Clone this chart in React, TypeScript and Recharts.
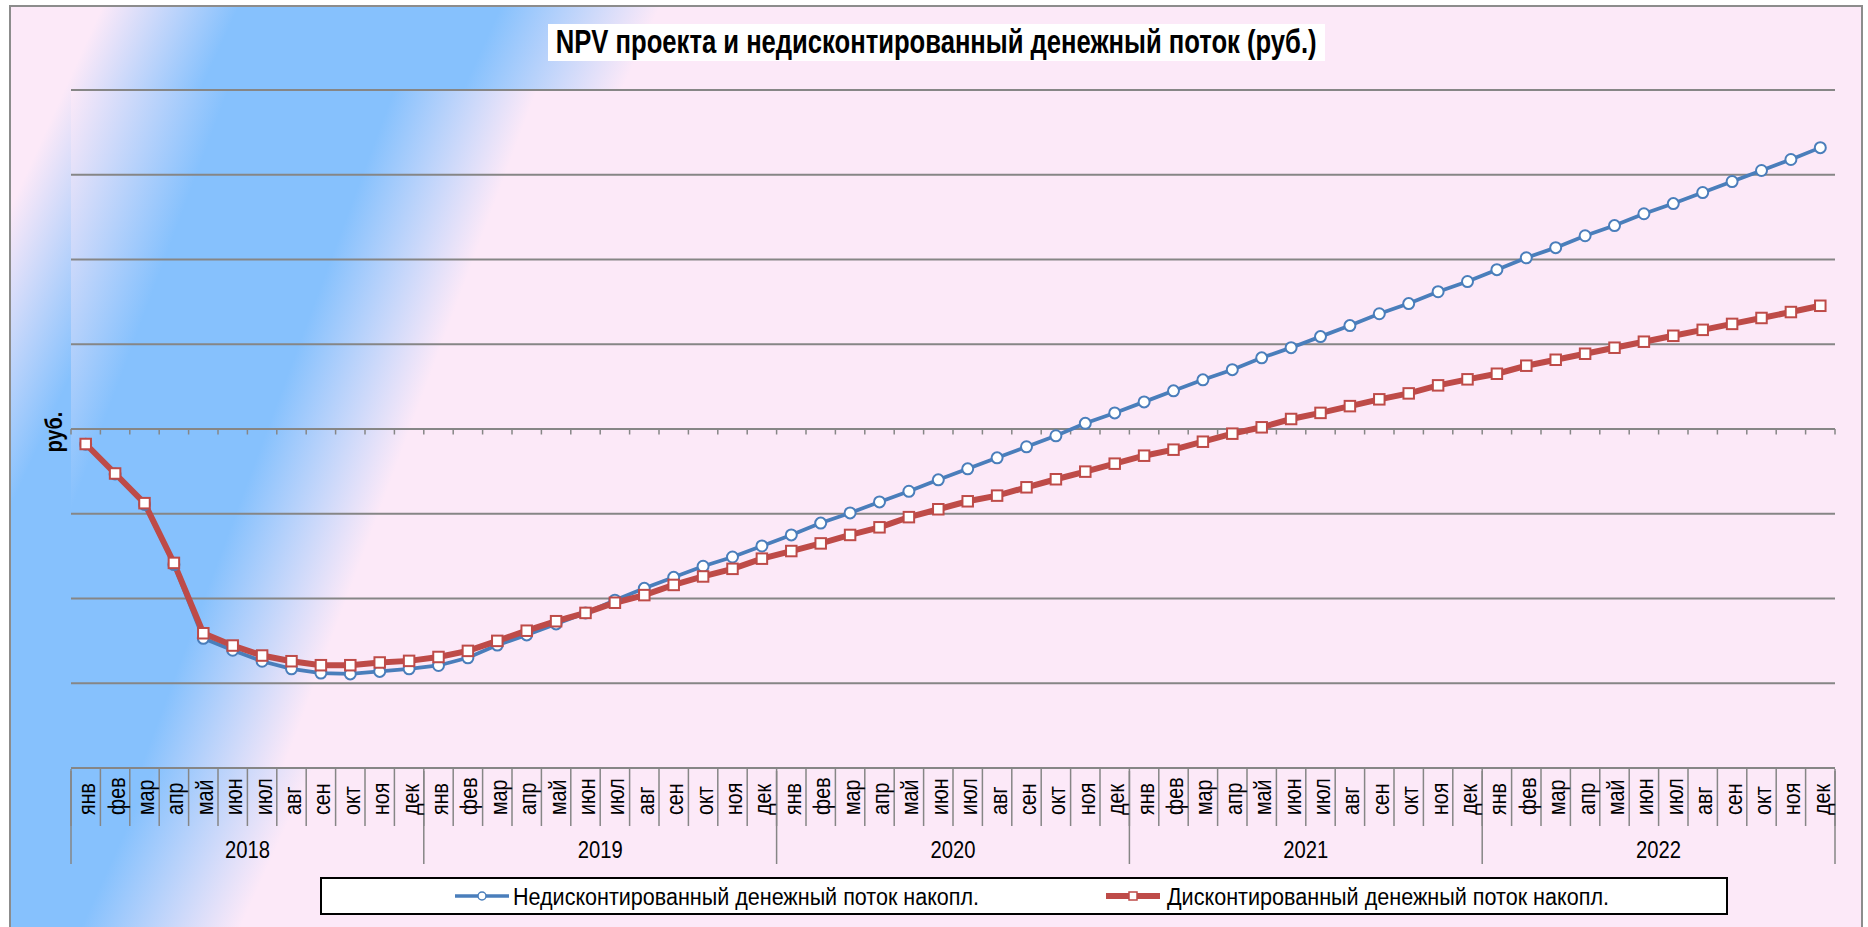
import React from 'react';
import { LineChart, Line, XAxis, YAxis, ReferenceLine, Legend } from 'recharts';

const MONTHS = ['янв', 'фев', 'мар', 'апр', 'май', 'июн', 'июл', 'авг', 'сен', 'окт', 'ноя', 'дек'];
const YEARS = ['2018', '2019', '2020', '2021', '2022'];
const TITLE = 'NPV проекта и недисконтированный денежный поток (руб.)';
const Y_LABEL = 'руб.';
const NAME_UNDISC = 'Недисконтированный денежный поток накопл.';
const NAME_DISC = 'Дисконтированный денежный поток накопл.';

// cumulative cash flow, rub.
const UNDISCOUNTED = [
  -180000, -530000, -890000, -1600000, -2470000, -2610000, -2740000, -2830000, -2880000, -2890000, -2860000, -2830000,
  -2790000, -2700000, -2550000, -2430000, -2300000, -2170000, -2020000, -1880000, -1750000, -1620000, -1510000, -1380000,
  -1250000, -1110000, -990000, -860000, -735000, -600000, -470000, -340000, -210000, -80000, 67000, 190000,
  320000, 450000, 580000, 700000, 840000, 960000, 1090000, 1220000, 1360000, 1480000, 1620000, 1740000,
  1880000, 2020000, 2140000, 2280000, 2400000, 2540000, 2660000, 2790000, 2920000, 3050000, 3180000, 3320000,
];
const DISCOUNTED = [
  -177000, -525000, -875000, -1580000, -2410000, -2555000, -2673000, -2740000, -2787000, -2787000, -2755000, -2736000,
  -2690000, -2618000, -2500000, -2380000, -2268000, -2170000, -2050000, -1960000, -1840000, -1740000, -1650000, -1530000,
  -1440000, -1350000, -1250000, -1160000, -1040000, -947000, -853000, -786000, -688000, -593000, -503000, -409000,
  -315000, -244000, -150000, -55000, 20000, 118000, 190000, 270000, 350000, 420000, 515000, 586000,
  652000, 747000, 817000, 888000, 959000, 1030000, 1100000, 1170000, 1240000, 1310000, 1380000, 1454000,
];
const Y_TICKS = [-4000000, -3000000, -2000000, -1000000, 0, 1000000, 2000000, 3000000, 4000000];
const Y_MIN = Y_TICKS[0];
const Y_MAX = Y_TICKS[Y_TICKS.length - 1];
const TICK_LEN = (Y_TICKS[1] - Y_TICKS[0]) * 0.065;

const N = YEARS.length * MONTHS.length;
const DATA = UNDISCOUNTED.map((v, i) => ({
  x: i + 0.5,
  month: MONTHS[i % 12],
  year: YEARS[Math.floor(i / 12)],
  undisc: v,
  disc: DISCOUNTED[i],
}));
const MONTH_TICKS = DATA.map((d) => d.x);
const MONTH_BOUNDS = Array.from({ length: N + 1 }, (_, i) => i);
const YEAR_BOUNDS = Array.from({ length: YEARS.length + 1 }, (_, i) => i * 12);
const YEAR_CENTERS = YEARS.map((_, i) => i * 12 + 6);

const FONT = "'Liberation Sans', Arial, sans-serif";
const GRID = '#868686';
const BLUE = '#4A7EBB';
const RED = '#BE4B48';
const PINK = '#FCE9F8';
const SKY = '#86C1FD';

// plot area box (background only)
const PLOT = { left: 71, top: 90, right: 1835, bottom: 768 };

function MonthTick(props: any) {
  const { x, y, payload } = props;
  const label = MONTHS[Math.floor(payload.value) % 12];
  return (
    <text
      transform={`translate(${x + 9.5},${y + 47}) rotate(-90) scale(0.82,1)`}
      fontSize={24}
      fontFamily={FONT}
      fill="#000"
    >
      {label}
    </text>
  );
}

function YearTick(props: any) {
  const { x, y, payload } = props;
  const label = YEARS[Math.floor(payload.value / 12)];
  return (
    <text
      transform={`translate(${x},${y + 88}) scale(0.88,1)`}
      textAnchor="middle"
      fontSize={23}
      fontFamily={FONT}
      fill="#000"
    >
      {label}
    </text>
  );
}

function EmptyTick() {
  return <g />;
}

function SquareDot(props: any) {
  const { cx, cy, index } = props;
  if (cx == null || cy == null) return null;
  return (
    <rect
      key={`sq-${index}`}
      x={cx - 5.25}
      y={cy - 5.25}
      width={10.5}
      height={10.5}
      fill="#fff"
      stroke={RED}
      strokeWidth={2}
    />
  );
}

const LEGEND_LAYOUT: Record<string, { icon: number; text: number; w: number }> = {
  undisc: { icon: 135, text: 193, w: 466 },
  disc: { icon: 786, text: 847, w: 442 },
};

function LegendContent(props: any) {
  const payload = props.payload || [];
  return (
    <svg width={1408} height={38} style={{ display: 'block' }}>
      <rect x={1} y={1} width={1406} height={36} fill="#fff" stroke="#000" strokeWidth={2} />
      {payload.map((entry: any, i: number) => {
        const L = LEGEND_LAYOUT[entry.dataKey] || LEGEND_LAYOUT.undisc;
        const isSquare = entry.dataKey === 'disc';
        return (
          <g key={i}>
            <line x1={L.icon} x2={L.icon + 54} y1={19} y2={19} stroke={entry.color} strokeWidth={isSquare ? 6 : 3.5} />
            {isSquare ? (
              <rect x={L.icon + 23} y={15} width={8} height={8} fill="#fff" stroke={entry.color} strokeWidth={1.5} />
            ) : (
              <circle cx={L.icon + 27} cy={19} r={4} fill="#fff" stroke={entry.color} strokeWidth={1.5} />
            )}
            <text x={L.text} y={28} fontSize={23} fontFamily={FONT} fill="#000" textLength={L.w} lengthAdjust="spacingAndGlyphs">
              {entry.value}
            </text>
          </g>
        );
      })}
    </svg>
  );
}

export default function App() {
  return (
    <div style={{ position: 'absolute', left: 0, top: 0, width: 1868, height: 927, overflow: 'hidden', fontFamily: FONT }}>
      <div
        style={{
          position: 'absolute',
          left: 9,
          top: 5,
          width: 1854,
          height: 940,
          border: '2px solid #8c8c8c',
          boxSizing: 'border-box',
          background: `linear-gradient(114.5deg, ${PINK} 4%, ${SKY} 10%, ${SKY} 21.5%, ${PINK} 28.5%, ${PINK} 100%)`,
        }}
      />
      <div
        style={{
          position: 'absolute',
          left: PLOT.left,
          top: PLOT.top,
          width: PLOT.right - PLOT.left,
          height: PLOT.bottom - PLOT.top,
          background: `linear-gradient(110.5deg, ${PINK} 0%, ${SKY} 7.8%, ${SKY} 16%, ${PINK} 23.1%, ${PINK} 100%)`,
        }}
      />
      <div
        style={{
          position: 'absolute',
          left: 548,
          top: 24,
          width: 777,
          height: 37,
          background: '#fff',
          display: 'flex',
          justifyContent: 'center',
          alignItems: 'flex-start',
        }}
      >
        <span
          style={{
            fontFamily: FONT,
            fontWeight: 'bold',
            fontSize: 33,
            lineHeight: '35px',
            whiteSpace: 'nowrap',
            display: 'inline-block',
            transform: 'scaleX(0.776)',
            color: '#000',
          }}
        >
          {TITLE}
        </span>
      </div>
      <div
        style={{
          position: 'absolute',
          left: 54,
          top: 432,
          fontFamily: FONT,
          fontWeight: 'bold',
          fontSize: 24,
          lineHeight: 1,
          whiteSpace: 'nowrap',
          transform: 'translate(-50%, -50%) rotate(-90deg) scaleX(0.82)',
          color: '#000',
        }}
      >
        {Y_LABEL}
      </div>
      <div style={{ position: 'absolute', left: 0, top: 0 }}>
        <LineChart width={1868} height={927} data={DATA} margin={{ top: 90, right: 33, bottom: 155, left: 71 }}>
          <XAxis
            xAxisId="m"
            type="number"
            dataKey="x"
            domain={[0, N]}
            ticks={MONTH_TICKS}
            interval={0}
            height={1}
            tickSize={0}
            tickMargin={0}
            tickLine={false}
            axisLine={{ stroke: GRID, strokeWidth: 2 }}
            tick={<MonthTick />}
          />
          <XAxis
            xAxisId="sep"
            type="number"
            dataKey="x"
            domain={[0, N]}
            ticks={MONTH_BOUNDS}
            interval={0}
            height={1}
            tickSize={57}
            stroke={GRID}
            tickLine={{ stroke: GRID, strokeWidth: 1.5 }}
            axisLine={false}
            tick={<EmptyTick />}
          />
          <XAxis
            xAxisId="ysep"
            type="number"
            dataKey="x"
            domain={[0, N]}
            ticks={YEAR_BOUNDS}
            interval={0}
            height={1}
            tickSize={93}
            stroke={GRID}
            tickLine={{ stroke: GRID, strokeWidth: 1.5 }}
            axisLine={false}
            tick={<EmptyTick />}
          />
          <XAxis
            xAxisId="yr"
            type="number"
            dataKey="x"
            domain={[0, N]}
            ticks={YEAR_CENTERS}
            interval={0}
            height={1}
            tickSize={0}
            tickMargin={0}
            tickLine={false}
            axisLine={false}
            tick={<YearTick />}
          />
          <YAxis type="number" domain={[Y_MIN, Y_MAX]} ticks={Y_TICKS} hide />
          {Y_TICKS.map((v) => (
            <ReferenceLine key={`g${v}`} xAxisId="m" y={v} stroke={GRID} strokeWidth={2} />
          ))}
          {MONTH_BOUNDS.map((k) => (
            <ReferenceLine
              key={`t${k}`}
              xAxisId="m"
              segment={[{ x: k, y: 0 }, { x: k, y: -TICK_LEN }]}
              stroke={GRID}
              strokeWidth={1.5}
            />
          ))}
          <Line
            xAxisId="m"
            type="linear"
            dataKey="undisc"
            name={NAME_UNDISC}
            stroke={BLUE}
            strokeWidth={3.75}
            dot={{ r: 5.5, fill: '#fff', stroke: BLUE, strokeWidth: 2 }}
            activeDot={false}
            legendType="circle"
            isAnimationActive={false}
          />
          <Line
            xAxisId="m"
            type="linear"
            dataKey="disc"
            name={NAME_DISC}
            stroke={RED}
            strokeWidth={6}
            dot={<SquareDot />}
            activeDot={false}
            legendType="square"
            isAnimationActive={false}
          />
          <Legend
            content={<LegendContent />}
            wrapperStyle={{ position: 'absolute', left: 320, top: 877, bottom: 'auto', width: 1408, height: 0 }}
          />
        </LineChart>
      </div>
    </div>
  );
}
